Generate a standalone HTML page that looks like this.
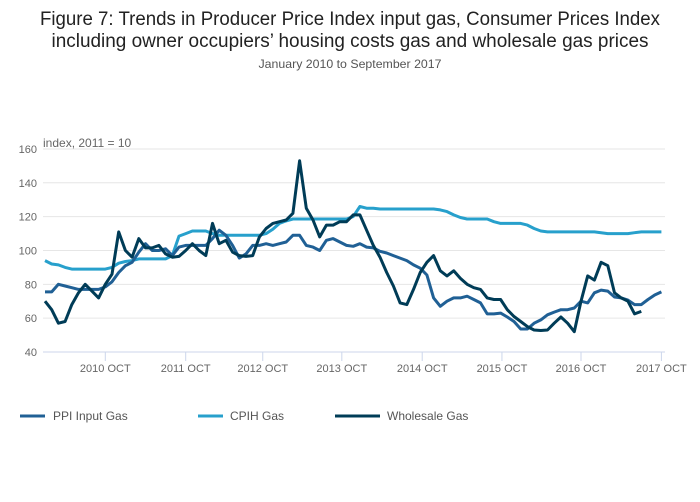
<!DOCTYPE html>
<html><head><meta charset="utf-8"><style>
html,body{margin:0;padding:0;background:#fff;}
svg{display:block;font-family:"Liberation Sans",sans-serif;}
</style></head><body>
<svg id="chart" width="700" height="502" viewBox="0 0 700 502">
<text x="350" y="25" text-anchor="middle" font-size="19" fill="#222" textLength="620" lengthAdjust="spacingAndGlyphs">Figure 7: Trends in Producer Price Index input gas, Consumer Prices Index</text>
<text x="350" y="47" text-anchor="middle" font-size="19" fill="#222" textLength="597" lengthAdjust="spacingAndGlyphs">including owner occupiers’ housing costs gas and wholesale gas prices</text>
<text x="350" y="68" text-anchor="middle" font-size="12" fill="#555" textLength="183" lengthAdjust="spacingAndGlyphs">January 2010 to September 2017</text>
<text x="43" y="147" font-size="12" fill="#666">index, 2011 = 10</text>
<g id="grid"></g><g id="xaxis"></g><g id="series"></g>
<g>
<g><line x1="20" y1="416" x2="45" y2="416" stroke="#206095" stroke-width="3"/><text x="53" y="420" font-size="12" fill="#555">PPI Input Gas</text></g>
<g><line x1="198" y1="416" x2="223" y2="416" stroke="#27a0cc" stroke-width="3"/><text x="230" y="420" font-size="12" fill="#555">CPIH Gas</text></g>
<g><line x1="335" y1="416" x2="380" y2="416" stroke="#003c57" stroke-width="3"/><text x="387" y="420" font-size="12" fill="#555">Wholesale Gas</text></g>
</g>
</svg>
<script>
const yTicks=[40,60,80,100,120,140,160];
const xTickLabels=["2010 OCT","2011 OCT","2012 OCT","2013 OCT","2014 OCT","2015 OCT","2016 OCT","2017 OCT"];
const xTickIndex=[9,21,32.5,44.3,56.3,68.2,80,92];
const ppi=[75.5,75.5,80,79,78,77,77,77,77,78.5,81.5,87,91,93,99,104,100,100,101,97,102,103,103,103,103,107,112,109,103,95.5,98,103,103,104,103,104,105,109,109,103,102,100,106,107,105,103,102.5,104,102,101.5,99.5,98.5,97,95.5,94,91.5,89.5,85.5,72,67,70,72,72,73,71,69,62.5,62.5,63,60.7,58,53.6,53.6,57,59,62,63.6,65,65,66,70,69,75,76.6,76,72.5,72,70.7,68,68,71,73.7,75.5];
const cpih=[94,92,91.5,90,89,89,89,89,89,89,90,92.5,93.5,94,95,95,95,95,95,97,108.5,110,111.5,111.5,111.5,110,109,109,109,109,109,109,109,110,112.5,116,117.5,118.6,118.6,118.6,118.6,118.6,118.6,118.6,118.6,118.6,120,126,125,125,124.5,124.5,124.5,124.5,124.5,124.5,124.5,124.5,124.5,124,123,121,119.5,118.6,118.6,118.6,118.6,117,116,116,116,116,115,113,111.5,111,111,111,111,111,111,111,111,110.5,110,110,110,110,110.5,111,111,111,111];
const wholesale=[70,65,57,58,68,75,80,76,72,80,86,111,100,96,107,101.5,101.5,103,98,96,96.5,100,104,100,97,116,104,106,99,97,96.5,97,108,113,116,117,118,122,153,125,118,108,115,115,117,117,121,121,112,103,96,87,79,69,68,77,87,93,97,88,85,88,83.5,80,78,77,72,71,71,65,61,58,55,53,52.7,53,57,60.7,57,52,70,85,82.5,93,91,75,72,70,62.5,64];
const NS='http://www.w3.org/2000/svg';
const X0=45,XSTEP=6.7,Y0=352,YPX=1.692;
function xs(i){return X0+XSTEP*i;}
function ys(v){return Y0-(v-40)*YPX;}
function mk(tag,attrs,parent){const e=document.createElementNS(NS,tag);for(const k in attrs)e.setAttribute(k,attrs[k]);parent.appendChild(e);return e;}
const grid=document.getElementById('grid');
yTicks.forEach(v=>{
  const l=mk('line',{x1:43,x2:665,y1:ys(v),y2:ys(v),stroke:v===40?'#ccd6eb':'#e6e6e6','stroke-width':1},grid);
  
  
  const t=mk('text',{x:37,y:ys(v)+4,'text-anchor':'end','font-size':11,fill:'#666'},grid);
  t.textContent=v;
  
  
});
const xa=document.getElementById('xaxis');
xTickLabels.forEach((lab,k)=>{
  const x=xs(xTickIndex[k]);
  const tk=mk('line',{x1:x,x2:x,y1:352,y2:361,stroke:'#ccd6eb','stroke-width':1},xa);
  
  
  const t=mk('text',{x:x,y:372,'text-anchor':'middle','font-size':11,fill:'#666'},xa);
  t.textContent=lab;
  
  
});
const sg=document.getElementById('series');
function drawLine(arr,color,name){
  const d=arr.map((v,i)=>(i?'L':'M')+xs(i).toFixed(1)+' '+ys(v).toFixed(1)).join(' ');
  const p=mk('path',{d:d,fill:'none',stroke:color,'stroke-width':3,'stroke-linejoin':'round'},sg);
  
  
}
drawLine(cpih,'#27a0cc','cpih-gas-line');
drawLine(ppi,'#206095','ppi-input-gas-line');
drawLine(wholesale,'#003c57','wholesale-gas-line');
</script>
</body></html>
